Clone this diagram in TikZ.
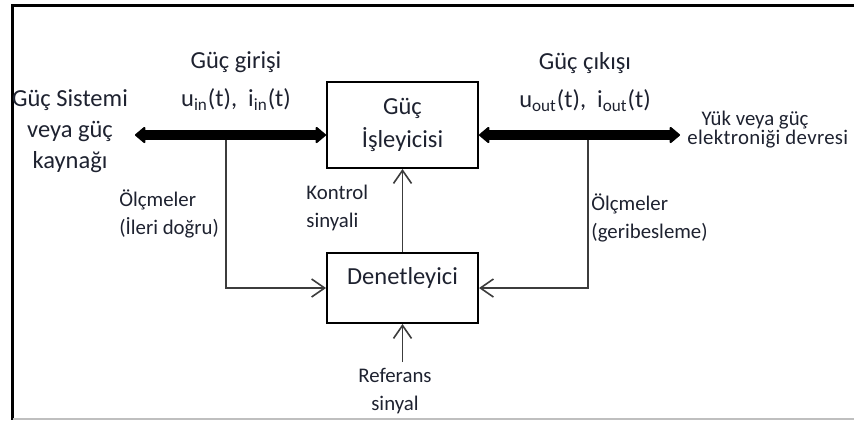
\documentclass[tikz,border=0pt]{standalone}
\usepackage{fontspec}
\setmainfont{Carlito}
\usetikzlibrary{arrows.meta}
\definecolor{ink}{HTML}{1E2230}
\definecolor{wire}{HTML}{3C3C3C}
\begin{document}
\begin{tikzpicture}[x=0.5pt,y=-0.5pt,
  block/.style={draw=black, line width=1pt, minimum width=75.5pt, inner sep=0pt},
  big/.style={text=ink, font=\fontsize{12.25}{16.5}\selectfont, inner sep=0pt, align=center},
  small/.style={text=ink, font=\fontsize{10.4}{14}\selectfont, inner sep=0pt},
  power/.style={line width=5pt,
    {Triangle[line width=1pt, round, length=5.5pt, width=9pt]}-{Triangle[line width=1pt, round, length=5.5pt, width=9pt]}},
  sig/.style={draw=wire, line width=0.8pt, -{Straight Barb[length=6.5pt, width=9pt]}}]

% page and frame
\fill[white] (0,0) rectangle (854,420);
\useasboundingbox (0,0) rectangle (854,420);
\draw[line width=1.5pt] (854,5.5) -- (12.5,5.5) -- (12.5,420);
\draw[black!25, line width=0.6pt] (13,419) -- (854,419);

% free ends of the connectors
\coordinate (srcend) at (135,135);
\coordinate (loadend) at (680,135);
\coordinate (fftap) at (226,140);
\coordinate (fbtap) at (588,140);
\coordinate (refin) at (402.5,362);

% blocks
\node[block, minimum height=43pt, big] (proc) at (402.5,125) {Güç\\İşleyicisi};
\node[block, minimum height=35pt] (ctrl) at (402.5,288) {};
\node[big] (ctrltext) at (402.5,278) {Denetleyici};

% power flow
\draw[power] (srcend) -- (srcend -| proc.west);
\draw[power] (loadend -| proc.east) -- (loadend);

% signal paths
\draw[sig] (fftap) |- (ctrl.west);
\draw[sig] (fbtap) |- (ctrl.east);
\draw[sig] (ctrl.north) -- (proc.south);
\draw[sig] (refin) -- (ctrl.south);

% labels
\node[big, font=\fontsize{12.25}{15.5}\selectfont] (srclbl) at (70,131) {Güç Sistemi\\veya güç\\kaynağı};
\node[big, font=\fontsize{12.25}{19}\selectfont] (inlbl) at (236,81)
  {Güç girişi\\u\textsubscript{in}(t),\ \ i\textsubscript{in}(t)};
\node[big, font=\fontsize{12.25}{19}\selectfont] (outlbl) at (585,82)
  {Güç çıkışı\\u\textsubscript{out}(t),\ \ i\textsubscript{out}(t)};
\node[small] (loadlbl) at (755,120) {Yük veya güç};
\node[small, anchor=west] (loadlbl2) at (687,139) {\addfontfeature{LetterSpace=1.5}elektroniği devresi};
\node[small, align=left, anchor=west] (fflbl) at (119,214) {Ölçmeler\\(İleri doğru)};
\node[small, align=left, anchor=west] (ctllbl) at (306,207.5) {Kontrol\\sinyali};
\node[small, align=left, anchor=west] (fblbl) at (591,218) {Ölçmeler\\(geribesleme)};
\node[small, align=center] (reflbl) at (395,391) {Referans\\sinyal};
\end{tikzpicture}
\end{document}
